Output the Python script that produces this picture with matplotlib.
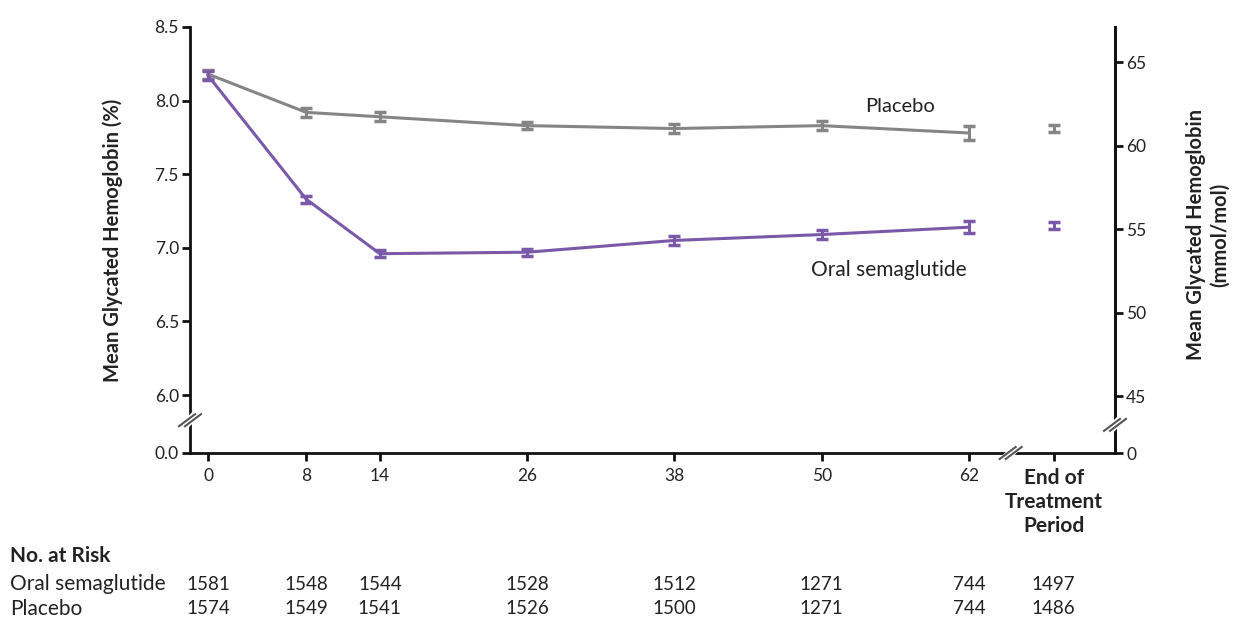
import matplotlib
matplotlib.use("Agg")
import matplotlib.pyplot as plt
from matplotlib.lines import Line2D
from matplotlib.transforms import blended_transform_factory, IdentityTransform

plt.rcParams['font.family'] = ['Lato', 'DejaVu Sans']

# Visit weeks; the end-of-treatment point sits past an axis break
weeks = [0, 8, 14, 26, 38, 50, 62]
end_pos = 68.9
tick_labels = ["0", "8", "14", "26", "38", "50", "62", "End of\nTreatment\nPeriod"]

# Mean glycated hemoglobin (%) and error bar half-widths
placebo_mean = [8.18, 7.92, 7.89, 7.83, 7.81, 7.83, 7.78]
placebo_err = [0.03, 0.03, 0.03, 0.025, 0.03, 0.03, 0.045]
placebo_end = 7.81
placebo_end_err = 0.025

sema_mean = [8.17, 7.33, 6.96, 6.97, 7.05, 7.09, 7.14]
sema_err = [0.03, 0.025, 0.025, 0.025, 0.03, 0.03, 0.04]
sema_end = 7.15
sema_end_err = 0.025

# Number at risk
risk_rows = ["Oral semaglutide", "Placebo"]
risk_sema = [1581, 1548, 1544, 1528, 1512, 1271, 744, 1497]
risk_placebo = [1574, 1549, 1541, 1526, 1500, 1271, 744, 1486]

left_ticks = [6.0, 6.5, 7.0, 7.5, 8.0, 8.5]
right_ticks = [45, 50, 55, 60, 65]

GRAY = "#858585"
PURPLE = "#7a59a8"
TXT = "#222222"

W, H = 1234, 619
fig = plt.figure(figsize=(W / 100, H / 100), dpi=100)
ax = fig.add_axes([190 / W, (H - 453) / H, (1115 - 190) / W, (453 - 27) / H])

ylo, yhi = 5.606, 8.5
ax.set_ylim(ylo, yhi)
ax.set_xlim(-1.47, 73.9)

lw = 2.2
ax.errorbar(weeks, placebo_mean, yerr=placebo_err, color=GRAY, lw=lw,
            elinewidth=lw, capsize=4, capthick=2.5, zorder=3)
ax.errorbar([end_pos], [placebo_end], yerr=[placebo_end_err], color=GRAY,
            lw=lw, elinewidth=lw, capsize=4, capthick=2.5, fmt='none', zorder=3)
ax.errorbar(weeks, sema_mean, yerr=sema_err, color=PURPLE, lw=lw,
            elinewidth=lw, capsize=4, capthick=2.5, zorder=4)
ax.errorbar([end_pos], [sema_end], yerr=[sema_end_err], color=PURPLE,
            lw=lw, elinewidth=lw, capsize=4, capthick=2.5, fmt='none', zorder=4)

ax.text(56.4, 7.96, "Placebo", ha="center", va="center", fontsize=14.5, color=TXT)
ax.text(55.5, 6.85, "Oral semaglutide", ha="center", va="center", fontsize=15, color=TXT)

# Spines and ticks
ax.spines["top"].set_visible(False)
for s in ["left", "bottom", "right"]:
    ax.spines[s].set_linewidth(2)
    ax.spines[s].set_color("#111111")

ax.set_yticks([ylo] + left_ticks)
ax.set_yticklabels(["0.0"] + [f"{v:.1f}" for v in left_ticks])
ax.tick_params(axis="y", direction="out", length=6, width=2, labelsize=12.5,
               labelcolor=TXT, pad=2, colors="#111111")
ax.set_xticks(weeks + [end_pos])
ax.set_xticklabels(tick_labels)
ax.tick_params(axis="x", direction="out", length=6, width=2, labelsize=12.5,
               labelcolor=TXT, pad=5, colors="#111111")
for lab in ax.get_xticklabels():
    lab.set_color(TXT)
xl = ax.get_xticklabels()[-1]
xl.set_fontweight("bold")
xl.set_fontsize(15)
xl.set_linespacing(1.25)
xl.set_va("top")

ax.set_ylabel("Mean Glycated Hemoglobin (%)", fontsize=14.5, fontweight="bold",
              color=TXT, labelpad=23)

# Right axis in mmol/mol
ax2 = ax.twinx()
ax2.set_position(ax.get_position())
rlo, rhi = 41.59, 67.1
ax2.set_ylim(rlo, rhi)
for s in ["top", "left", "bottom"]:
    ax2.spines[s].set_visible(False)
ax2.spines["right"].set_linewidth(2)
ax2.spines["right"].set_color("#111111")
ax2.set_yticks([rlo] + right_ticks)
ax2.set_yticklabels(["0"] + [str(v) for v in right_ticks])
ax2.tick_params(axis="y", direction="out", length=6, width=2, labelsize=12.5,
                colors="#111111", labelcolor=TXT, pad=2)
fig.text(1208 / W, 1 - 235 / H, "Mean Glycated Hemoglobin\n(mmol/mol)",
         fontsize=14.5, fontweight="bold", color=TXT, rotation=90,
         ha="center", va="center", linespacing=1.2)

fig.canvas.draw()


def break_mark(px, py):
    """Draw a '//' axis-break symbol centred on display point (px, py)."""
    idt = IdentityTransform()
    fig.add_artist(Line2D([px - 5, px + 5], [py - 5, py + 5], color="white",
                          lw=6, transform=idt, zorder=10))
    for d in (-3, 3):
        fig.add_artist(Line2D([px - 8 + d, px + 8 + d], [py - 6, py + 6],
                              color="#555555", lw=1.5, transform=idt, zorder=11))


to_px = ax.transAxes.transform
bx, by = to_px((0.0, 0.077))
break_mark(bx, by)
bx, by = ax.transData.transform((65.4, ylo))
break_mark(bx, by)
bx, by = to_px((1.0, 0.066))
break_mark(bx, by)

# Number-at-risk table aligned to the x ticks
tr = blended_transform_factory(ax.transData, fig.transFigure)
fig.text(10 / W, 1 - 556 / H, "No. at Risk", fontsize=15, fontweight="bold",
         color=TXT, va="center", ha="left")
row_y = [1 - 584 / H, 1 - 609 / H]
for ry, name, vals in zip(row_y, risk_rows, [risk_sema, risk_placebo]):
    fig.text(10 / W, ry, name, fontsize=15, color=TXT, va="center", ha="left")
    for xp, v in zip(weeks + [end_pos], vals):
        fig.text(xp, ry, str(v), fontsize=13.5, color=TXT, va="center",
                 ha="center", transform=tr)

fig.savefig("out.png", dpi=100)
